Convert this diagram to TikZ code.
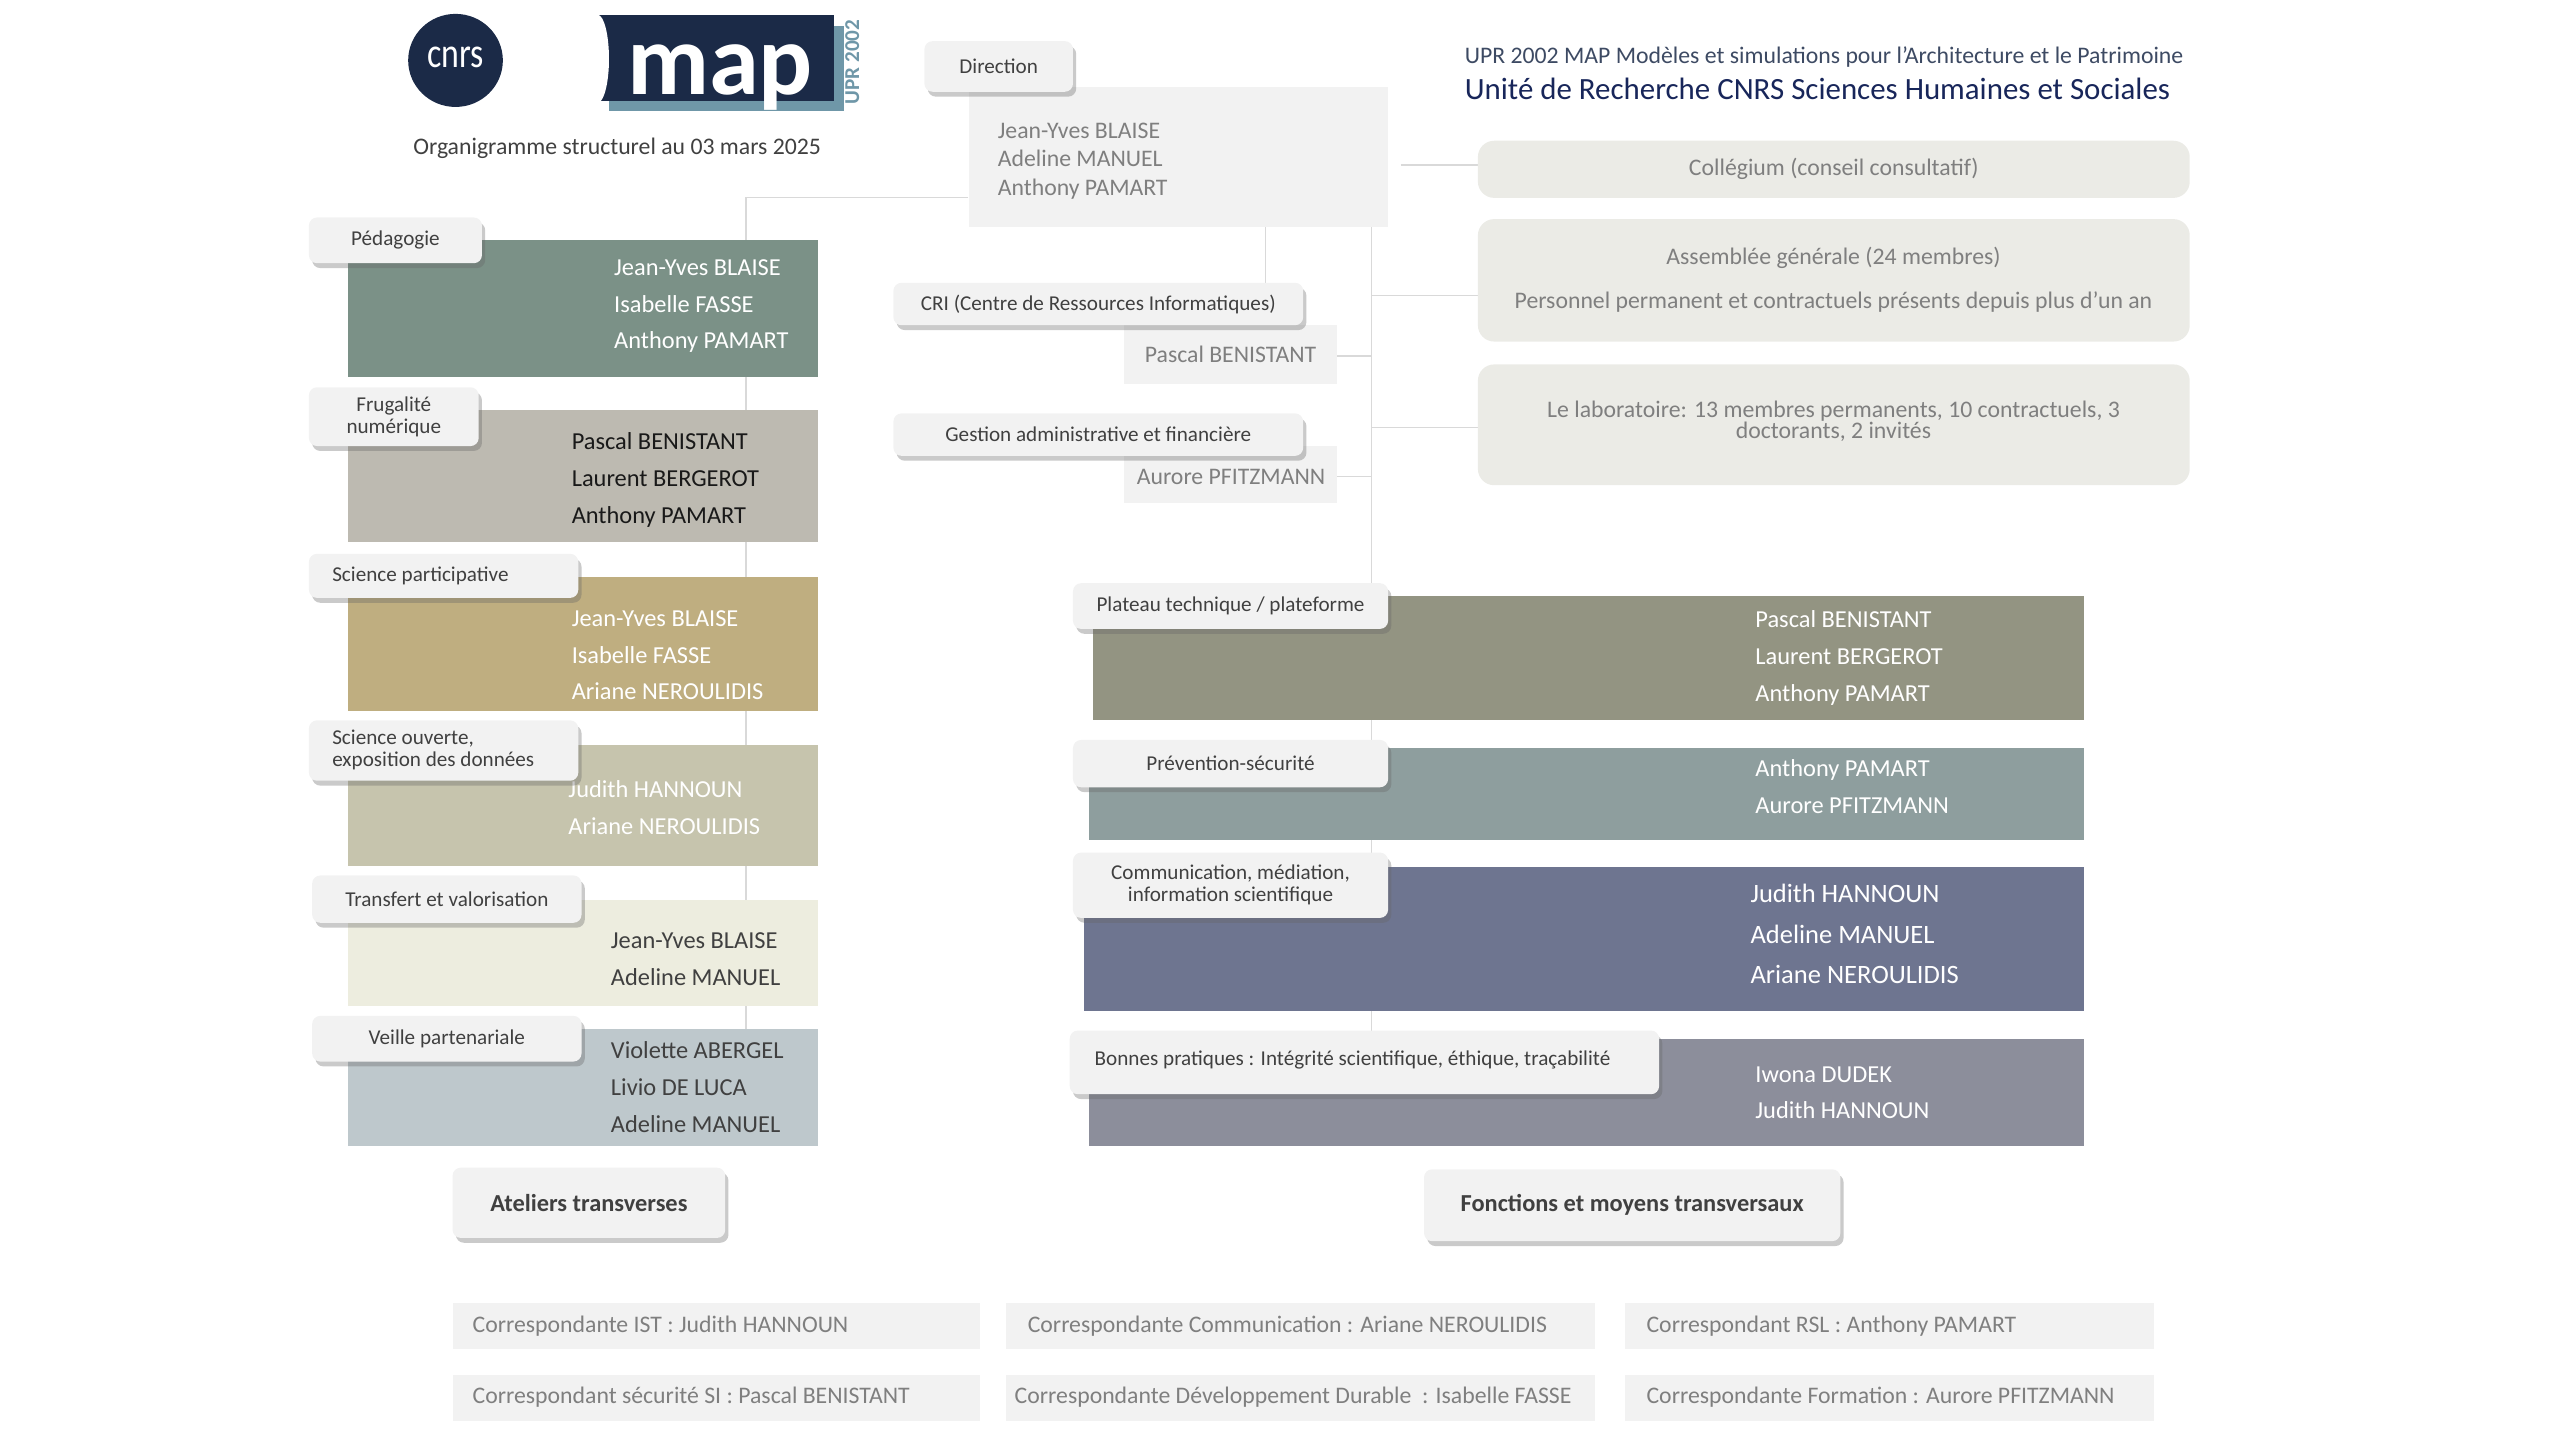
\documentclass[tikz,border=0pt]{standalone}
\usepackage{fontspec}
\setmainfont{Carlito}
\usetikzlibrary{shadows}
\definecolor{navy}{HTML}{1B2A47}
\definecolor{lblue}{HTML}{6F97A8}
\definecolor{ln}{HTML}{D9D9D9}
\definecolor{lg}{HTML}{F2F2F2}
\definecolor{tg}{HTML}{7F7F7F}
\definecolor{td}{HTML}{404040}
\definecolor{rb}{HTML}{EBEBE6}
\definecolor{cA}{HTML}{7B9187}
\definecolor{cB}{HTML}{BDBAB1}
\definecolor{cC}{HTML}{BFAE80}
\definecolor{cD}{HTML}{C6C4AD}
\definecolor{cE}{HTML}{EDEDDF}
\definecolor{cF}{HTML}{BEC8CC}
\definecolor{cG}{HTML}{939482}
\definecolor{cH}{HTML}{8E9E9E}
\definecolor{cI}{HTML}{6E7590}
\definecolor{cJ}{HTML}{8C8E9B}
\newcommand\bx[6]{\node[#6,anchor=north west,inner sep=0pt,minimum width={(#4-#2)*1bp},minimum height={(#5-#3)*1bp}] (#1) at (#2,#3) {};}
\begin{document}
\begin{tikzpicture}[x=1bp,y=-1bp,
  flat/.style={fill=#1,draw=none},
  lab/.style={fill=lg,draw=none,rounded corners=5pt,drop shadow={shadow xshift=2pt,shadow yshift=-3pt,opacity=0.35,fill=black!60}},
  rbox/.style={fill=rb,draw=none,rounded corners=10pt},
  lt/.style={font=\fontsize{13}{13.5}\selectfont,text=td,align=center},
  nm/.style={font=\fontsize{15}{22.5}\selectfont,text=#1,align=left,anchor=north west,inner sep=0pt},
  gt/.style={font=\fontsize{14.6}{16}\selectfont,text=tg},
  conn/.style={draw=ln,line width=0.8pt}]
\useasboundingbox (0,0) rectangle (1568,882);
% connectors
\coordinate (j1) at (457,121);
\draw[conn] (593,121) -- (j1) -- (457,700);
\draw[conn] (775,139) -- (775,200);
\draw[conn] (840,139) -- (840,640);
\draw[conn] (858,101) -- (905,101);
\draw[conn] (840,181) -- (905,181);
\draw[conn] (840,262) -- (905,262);
\draw[conn] (819,218) -- (840,218);
\draw[conn] (819,292) -- (840,292);
% logos
\fill[navy] (279,37) ellipse (29 and 28.5);
\node[text=white,font=\fontsize{26}{26}\selectfont,inner sep=0pt] (cnrs) at (279,35) {\addfontfeature{FakeStretch=0.8}cnrs};
\fill[lblue] (373,16) rectangle (517,68);
\fill[navy] (367,9) rectangle (511,62);
\fill[white] (366,36) ellipse (7 and 27);
\node[text=white,font=\fontsize{62}{62}\selectfont\bfseries,inner sep=0pt,anchor=base] (map) at (441,58) {map};
\node[text=lblue,font=\fontsize{13}{13}\selectfont\bfseries,rotate=90,inner sep=0pt] (upr) at (522,38) {UPR 2002};
\node[font=\fontsize{14.6}{15}\selectfont,text=td] (org) at (378,91) {Organigramme structurel au 03 mars 2025};
\node[font=\fontsize{14.6}{15}\selectfont,text=navy!85,anchor=base west,inner sep=0pt] (t1) at (897,39) {UPR 2002 MAP Modèles et simulations pour l’Architecture et le Patrimoine};
\node[font=\fontsize{19}{20}\selectfont,text=navy!90!blue,anchor=base west,inner sep=0pt] (t2) at (897,61) {Unité de Recherche CNRS Sciences Humaines et Sociales};
% direction
\bx{dirb}{593}{53}{850}{139}{flat=lg}
\bx{dir}{566}{25}{657}{56}{lab}
\node[lt] at (dir) {Direction};
\node[nm=tg,font=\fontsize{14.6}{17.5}\selectfont] at (611,75) {Jean-Yves BLAISE\\Adeline MANUEL\\Anthony PAMART};
% right top
\bx{col}{905}{86}{1341}{121}{rbox}
\node[gt] at (col) {Collégium (conseil consultatif)};
\bx{ass}{905}{134}{1341}{209}{rbox}
\node[gt] at (1123,158) {Assemblée générale (24 membres)};
\node[gt] at (1123,185) {Personnel permanent et contractuels présents depuis plus d’un an};
\bx{labo}{905}{223}{1341}{297}{rbox}
\node[gt,align=center,font=\fontsize{14.6}{12.5}\selectfont] at (1123,258) {Le laboratoire: 13 membres permanents, 10 contractuels, 3\\doctorants, 2 invités};
% CRI / gestion
\bx{crib}{688}{199}{819}{235}{flat=lg}
\node[gt] at (crib) {Pascal BENISTANT};
\bx{cri}{547}{173}{798}{199}{lab}
\node[lt] at (cri) {CRI (Centre de Ressources Informatiques)};
\bx{gesb}{688}{273}{819}{308}{flat=lg}
\node[gt] at (754,292) {Aurore PFITZMANN};
\bx{ges}{547}{253}{798}{279}{lab}
\node[lt] at (ges) {Gestion administrative et financière};
% left column
\bx{pedb}{213}{147}{501}{231}{flat=cA}
\node[nm=white] at (376,159) {Jean-Yves BLAISE\\Isabelle FASSE\\Anthony PAMART};
\bx{ped}{189}{133}{295}{161}{lab}
\node[lt] at (ped) {Pédagogie};
\bx{frub}{213}{251}{501}{332}{flat=cB}
\node[nm=black!90] at (350,265) {Pascal BENISTANT\\Laurent BERGEROT\\Anthony PAMART};
\bx{fru}{189}{237}{293}{273}{lab}
\node[lt] at (fru) {Frugalité\\numérique};
\bx{spb}{213}{353}{501}{435}{flat=cC}
\node[nm=white] at (350,374) {Jean-Yves BLAISE\\Isabelle FASSE\\Ariane NEROULIDIS};
\bx{sp}{189}{339}{354}{366}{lab}
\node[lt,anchor=west] at (200,352.5) {Science participative};
\bx{sob}{213}{456}{501}{530}{flat=cD}
\node[nm=white] at (348,478) {Judith HANNOUN\\Ariane NEROULIDIS};
\bx{so}{189}{441}{354}{478}{lab}
\node[lt,anchor=west,align=left] at (200,459.5) {Science ouverte,\\exposition des données};
\bx{trb}{213}{551}{501}{616}{flat=cE}
\node[nm=td] at (374,571) {Jean-Yves BLAISE\\Adeline MANUEL};
\bx{tr}{191}{536}{356}{565}{lab}
\node[lt] at (tr) {Transfert et valorisation};
\bx{veb}{213}{630}{501}{702}{flat=cF}
\node[nm=td] at (374,638) {Violette ABERGEL\\Livio DE LUCA\\Adeline MANUEL};
\bx{ve}{191}{622}{356}{650}{lab}
\node[lt] at (ve) {Veille partenariale};
% right column
\bx{plb}{669}{365}{1276}{441}{flat=cG}
\node[nm=white] at (1075,374) {Pascal BENISTANT\\Laurent BERGEROT\\Anthony PAMART};
\bx{pl}{657}{357}{850}{385}{lab}
\node[lt] at (pl) {Plateau technique / plateforme};
\bx{prb}{667}{458}{1276}{514}{flat=cH}
\node[nm=white] at (1075,465) {Anthony PAMART\\Aurore PFITZMANN};
\bx{pr}{657}{453}{850}{482}{lab}
\node[lt] at (pr) {Prévention-sécurité};
\bx{cob}{664}{531}{1276}{619}{flat=cI}
\node[nm=white,font=\fontsize{16.3}{24.7}\selectfont] at (1072,541.5) {Judith HANNOUN\\Adeline MANUEL\\Ariane NEROULIDIS};
\bx{co}{657}{522}{850}{562}{lab}
\node[lt] at (co) {Communication, médiation,\\information scientifique};
\bx{bpb}{667}{636}{1276}{702}{flat=cJ}
\node[nm=white] at (1075,653) {Iwona DUDEK\\Judith HANNOUN};
\bx{bp}{655}{631}{1016}{670}{lab}
\node[lt,anchor=west] at (667,649.5) {Bonnes pratiques : Intégrité scientifique, éthique, traçabilité};
% bottom
\bx{at}{277}{715}{444}{758}{lab}
\node[lt,font=\fontsize{15}{16}\selectfont\bfseries] at (at) {Ateliers transverses};
\bx{fo}{872}{716}{1127}{760}{lab}
\node[lt,font=\fontsize{15}{16}\selectfont\bfseries] at (fo) {Fonctions et moyens transversaux};
\bx{c1}{277}{798}{600}{826}{flat=lg}
\node[gt,anchor=west] at (286,812) {Correspondante IST : Judith HANNOUN};
\bx{c2}{616}{798}{977}{826}{flat=lg}
\node[gt,anchor=west] at (626,812) {Correspondante Communication : Ariane NEROULIDIS};
\bx{c3}{995}{798}{1319}{826}{flat=lg}
\node[gt,anchor=west] at (1005,812) {Correspondant RSL : Anthony PAMART};
\bx{c4}{277}{842}{600}{870}{flat=lg}
\node[gt,anchor=west] at (286,856) {Correspondant sécurité SI : Pascal BENISTANT};
\bx{c5}{616}{842}{977}{870}{flat=lg}
\node[gt,anchor=west] at (618,856) {Correspondante Développement Durable~~: Isabelle FASSE};
\bx{c6}{995}{842}{1319}{870}{flat=lg}
\node[gt,anchor=west] at (1005,856) {Correspondante Formation : Aurore PFITZMANN};
\end{tikzpicture}
\end{document}
